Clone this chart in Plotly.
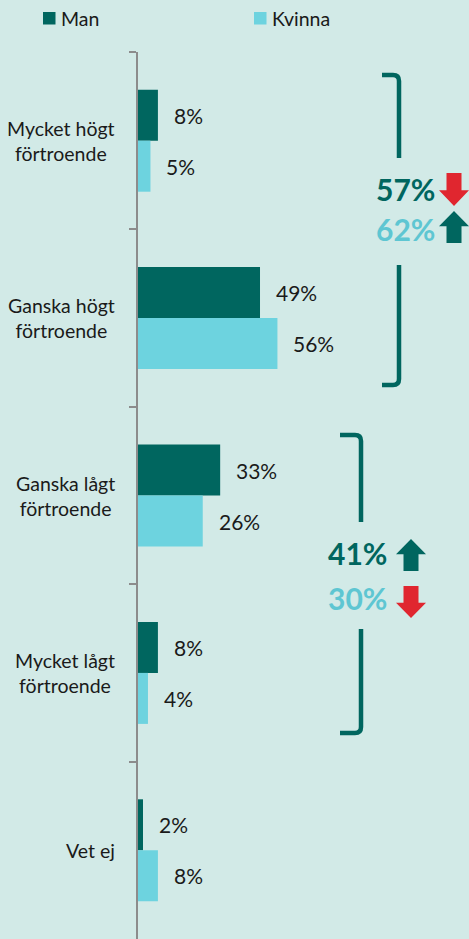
import plotly.graph_objects as go

# ---- data ----
categories = ["Mycket högt<br>förtroende", "Ganska högt<br>förtroende",
              "Ganska lågt<br>förtroende", "Mycket lågt<br>förtroende", "Vet ej"]
series_names = ["Man", "Kvinna"]
man_values = [8, 49, 33, 8, 2]
kvinna_values = [5, 56, 26, 4, 8]
high_totals = [57, 62]      # Man, Kvinna (högt förtroende)
high_trend = ["down", "up"]
low_totals = [41, 30]       # Man, Kvinna (lågt förtroende)
low_trend = ["up", "down"]

# ---- style ----
BG = "#D2EAE7"
DARK = "#00665F"
CYAN = "#6DD3DF"
CYAN_TXT = "#5EC6D2"
RED = "#E0262F"
TXT = "#1A1A1A"
FONT = "Lato"

W, H = 469, 939
ML, MT = 138, 52
PW, PH = W - ML, H - MT
PX_PER_PCT = 2.49


def px2x(px):
    return (px - ML) / PW


def py2y(py):
    return (H - py) / PH


fig = go.Figure()
for name, vals, col in [(series_names[0], man_values, DARK),
                        (series_names[1], kvinna_values, CYAN)]:
    fig.add_trace(go.Bar(y=categories, x=vals, name=name, orientation="h",
                         marker=dict(color=col, line=dict(width=0)),
                         hoverinfo="x+y"))

annotations = []
shapes = []

# value labels
for vals, ys in [(man_values, -25.5), (kvinna_values, 25.5)]:
    for c, v in zip(categories, vals):
        annotations.append(dict(x=v, y=c, xref="x", yref="y", text=f"{v}%",
                                showarrow=False, xanchor="left", yanchor="middle",
                                xshift=14, yshift=-ys,
                                font=dict(family=FONT, size=21, color=TXT)))

# category labels
for c in categories:
    annotations.append(dict(x=0, y=c, xref="paper", yref="y", text=c,
                            showarrow=False, xanchor="right", yanchor="middle",
                            xshift=-21, align="center",
                            font=dict(family=FONT, size=19.5, color=TXT)))

# legend (manual)
for name, col, sx in [(series_names[0], DARK, 43), (series_names[1], CYAN, 254)]:
    shapes.append(dict(type="rect", xref="paper", yref="paper",
                       x0=px2x(sx), x1=px2x(sx + 12.5), y0=py2y(12), y1=py2y(24.5),
                       fillcolor=col, line=dict(width=0)))
    annotations.append(dict(x=px2x(sx + 16), y=py2y(18.5), xref="paper", yref="paper",
                            text=name, showarrow=False, xanchor="left", yanchor="middle",
                            font=dict(family=FONT, size=19.5, color=TXT)))


def bracket(xl, xr, yt, g1, g2, yb, r=6):
    p1 = (f"M {px2x(xl)},{py2y(yt)} L {px2x(xr - r)},{py2y(yt)} "
          f"Q {px2x(xr)},{py2y(yt)} {px2x(xr)},{py2y(yt + r)} L {px2x(xr)},{py2y(g1)}")
    p2 = (f"M {px2x(xr)},{py2y(g2)} L {px2x(xr)},{py2y(yb - r)} "
          f"Q {px2x(xr)},{py2y(yb)} {px2x(xr - r)},{py2y(yb)} L {px2x(xl)},{py2y(yb)}")
    for p in (p1, p2):
        shapes.append(dict(type="path", xref="paper", yref="paper", path=p,
                           line=dict(color=DARK, width=4.5)))


def arrow(x0, x1, y0, y1, direction, col):
    xm = (x0 + x1) / 2
    sw = (x1 - x0) * 0.25
    if direction == "down":
        ym = y0 + (y1 - y0) * 0.52
        pts = [(xm - sw, y0), (xm + sw, y0), (xm + sw, ym), (x1, ym), (xm, y1),
               (x0, ym), (xm - sw, ym)]
    else:
        ym = y0 + (y1 - y0) * 0.48
        pts = [(xm, y0), (x1, ym), (xm + sw, ym), (xm + sw, y1), (xm - sw, y1),
               (xm - sw, ym), (x0, ym)]
    p = "M " + " L ".join(f"{px2x(a)},{py2y(b)}" for a, b in pts) + " Z"
    shapes.append(dict(type="path", xref="paper", yref="paper", path=p,
                       fillcolor=col, line=dict(width=0)))


def arrow_col(d):
    return RED if d == "down" else DARK


# top group
bracket(382, 399, 75, 158, 265, 385)
for val, d, cy, tc in [(high_totals[0], high_trend[0], 189, DARK),
                       (high_totals[1], high_trend[1], 229, CYAN_TXT)]:
    annotations.append(dict(x=px2x(405), y=py2y(cy), xref="paper", yref="paper",
                            text=f"<b>{val}%</b>", showarrow=False,
                            xanchor="center", yanchor="middle",
                            font=dict(family=FONT, size=30, color=tc)))
arrow(439, 469, 173, 206, high_trend[0], arrow_col(high_trend[0]))
arrow(439, 469, 211, 243, high_trend[1], arrow_col(high_trend[1]))

# bottom group
bracket(340, 361, 435, 522, 629, 733)
for val, d, cy, tc in [(low_totals[0], low_trend[0], 553, DARK),
                       (low_totals[1], low_trend[1], 598, CYAN_TXT)]:
    annotations.append(dict(x=px2x(357), y=py2y(cy), xref="paper", yref="paper",
                            text=f"<b>{val}%</b>", showarrow=False,
                            xanchor="center", yanchor="middle",
                            font=dict(family=FONT, size=30, color=tc)))
arrow(396, 426, 539, 571, low_trend[0], arrow_col(low_trend[0]))
arrow(396, 426, 586, 618, low_trend[1], arrow_col(low_trend[1]))

fig.update_layout(
    width=W, height=H,
    margin=dict(l=ML, r=0, t=MT, b=0, pad=0),
    paper_bgcolor=BG, plot_bgcolor=BG,
    barmode="group", bargap=0.425, bargroupgap=0,
    showlegend=False,
    annotations=annotations, shapes=shapes,
    font=dict(family=FONT, color=TXT),
    xaxis=dict(range=[0, PW / PX_PER_PCT], showgrid=False, zeroline=False,
               showticklabels=False, showline=False, ticks="", fixedrange=True),
    yaxis=dict(autorange="reversed", showgrid=False, zeroline=False,
               showticklabels=False, showline=True, linecolor="#8C8C8C", linewidth=1.5,
               ticks="outside", tickson="boundaries", ticklen=7, tickcolor="#8C8C8C",
               tickwidth=1.5, fixedrange=True),
)

fig.write_html(
    "out.html",
    config={"displayModeBar": False},
    post_script="document.body.style.margin='0';document.body.style.overflow='hidden';"
                "document.body.style.background='" + BG + "';",
)
